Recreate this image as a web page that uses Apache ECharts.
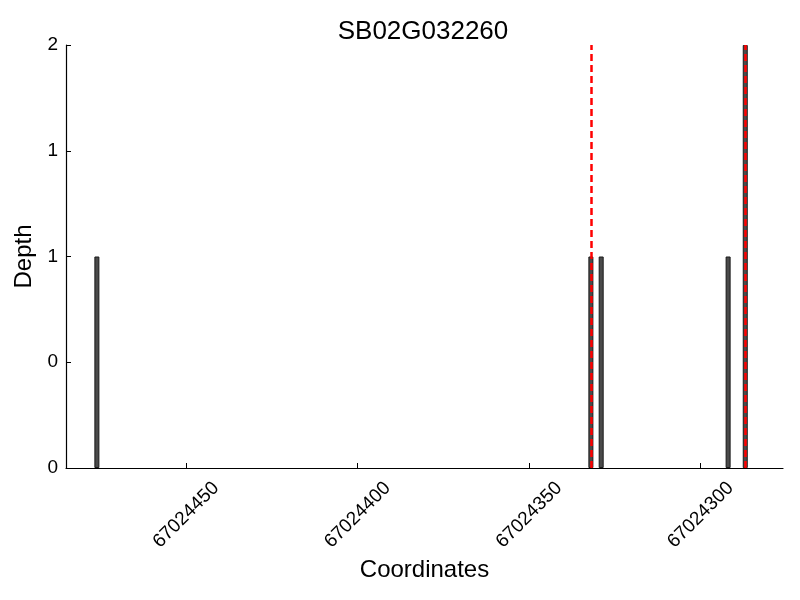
<!DOCTYPE html>
<html><head><meta charset="utf-8">
<script src="https://cdn.jsdelivr.net/npm/echarts@6/dist/echarts.min.js"></script>
<style>html,body{margin:0;padding:0;background:#fff}#c{width:800px;height:600px}</style>
</head><body><div id="c"></div>
<script>
const chartTitle = 'SB02G032260';
const positions = [67024476, 67024332, 67024329, 67024292, 67024287];
const depths = [1, 1, 1, 1, 2];
const markerPositions = [67024332, 67024287];
const xTicks = [67024300, 67024350, 67024400, 67024450];
const xMin = 67024276, xMax = 67024485;
const yTicks = [0, 0.5, 1, 1.5, 2];

const font = 'Liberation Sans';
const chart = echarts.init(document.getElementById('c'), null, {renderer: 'canvas'});
chart.setOption({
  animation: false,
  backgroundColor: '#fff',
  title: {
    text: chartTitle, left: 418, top: 14, textAlign: 'center',
    textStyle: {fontFamily: font, fontSize: 26, fontWeight: 'normal', color: '#000'}
  },
  grid: {left: 66, right: 17, top: 45, bottom: 132, containLabel: false},
  xAxis: {
    type: 'value', inverse: true, min: xMin, max: xMax,
    name: 'Coordinates', nameLocation: 'middle', nameGap: 87,
    nameTextStyle: {fontFamily: font, fontSize: 24, color: '#000'},
    axisLine: {show: true, onZero: false, lineStyle: {color: '#000', width: 1.2}},
    axisTick: {show: true, inside: true, length: 5, customValues: xTicks, lineStyle: {color: '#000'}},
    axisLabel: {customValues: xTicks, rotate: 45, align: 'center', verticalAlign: 'middle', margin: 47,
      fontFamily: font, fontSize: 19, color: '#000', formatter: v => String(v)},
    splitLine: {show: false}
  },
  yAxis: {
    type: 'value', min: 0, max: 2, interval: 0.5,
    name: 'Depth', nameLocation: 'middle', nameGap: 29,
    nameTextStyle: {fontFamily: font, fontSize: 24, color: '#000'},
    axisLine: {show: true, lineStyle: {color: '#000', width: 1.2}},
    axisTick: {show: true, inside: true, length: 5, customValues: yTicks, lineStyle: {color: '#000'}},
    axisLabel: {customValues: yTicks, margin: 8, fontFamily: font, fontSize: 19, color: '#000',
      formatter: v => String(Math.floor(v))},
    splitLine: {show: false}
  },
  series: [{
    type: 'bar',
    data: positions.map((p, i) => [p, depths[i]]),
    barWidth: 5,
    itemStyle: {color: '#4a4a4a', borderColor: '#1a1a1a', borderWidth: 1},
    markLine: {
      silent: true, symbol: 'none',
      label: {show: false},
      lineStyle: {color: '#ff0000', type: [7, 4], width: 2.5},
      data: markerPositions.map(p => ({xAxis: p}))
    }
  }]
});
</script>
</body></html>
